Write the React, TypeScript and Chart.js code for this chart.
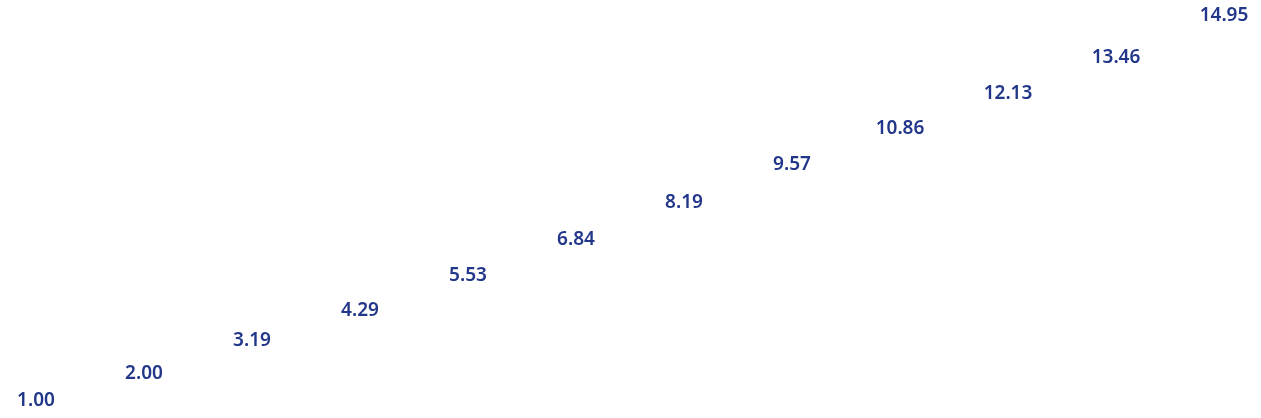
import React, { useEffect, useRef } from 'react';
import { Chart, registerables } from 'chart.js';

Chart.register(...registerables);

const categories = ['1', '2', '3', '4', '5', '6', '7', '8', '9', '10', '11', '12'];
const values = [1.0, 2.0, 3.19, 4.29, 5.53, 6.84, 8.19, 9.57, 10.86, 12.13, 13.46, 14.95];

const LABEL_COLOR = '#22378a';

// draws the value text centred on each point
const valueLabels = {
    id: 'valueLabels',
    afterDatasetsDraw(chart: any) {
        const ctx = chart.ctx;
        const meta = chart.getDatasetMeta(0);
        ctx.save();
        ctx.fillStyle = LABEL_COLOR;
        ctx.font = '600 19px "Noto Sans"';
        ctx.textAlign = 'center';
        ctx.textBaseline = 'middle';
        meta.data.forEach((pt: any, i: number) => {
            ctx.fillText(values[i].toFixed(2), pt.x, pt.y);
        });
        ctx.restore();
    },
};

const App: React.FC = () => {
    const chartRef = useRef<HTMLCanvasElement>(null);
    const chartInstanceRef = useRef<Chart | null>(null);

    useEffect(() => {
        document.body.style.margin = '0';
        if (!chartRef.current) return;
        const ctx = chartRef.current.getContext('2d');
        if (!ctx) return;
        if (chartInstanceRef.current) chartInstanceRef.current.destroy();

        chartInstanceRef.current = new Chart(ctx, {
            type: 'line',
            data: {
                labels: categories,
                datasets: [
                    {
                        data: values,
                        borderColor: 'transparent',
                        pointRadius: 0,
                        fill: false,
                    },
                ],
            },
            options: {
                animation: false,
                responsive: true,
                maintainAspectRatio: false,
                layout: { padding: { left: 36, right: 37, top: 16, bottom: 17 } },
                scales: {
                    x: { display: false, offset: false },
                    y: { display: false, min: 1, max: 14.95 },
                },
                plugins: {
                    legend: { display: false },
                    tooltip: { enabled: false },
                },
            },
            plugins: [valueLabels],
        });

        return () => {
            if (chartInstanceRef.current) {
                chartInstanceRef.current.destroy();
                chartInstanceRef.current = null;
            }
        };
    }, []);

    return (
        <div style={{ position: 'relative', width: '1261px', height: '418px' }}>
            <canvas ref={chartRef} />
        </div>
    );
};

export default App;
